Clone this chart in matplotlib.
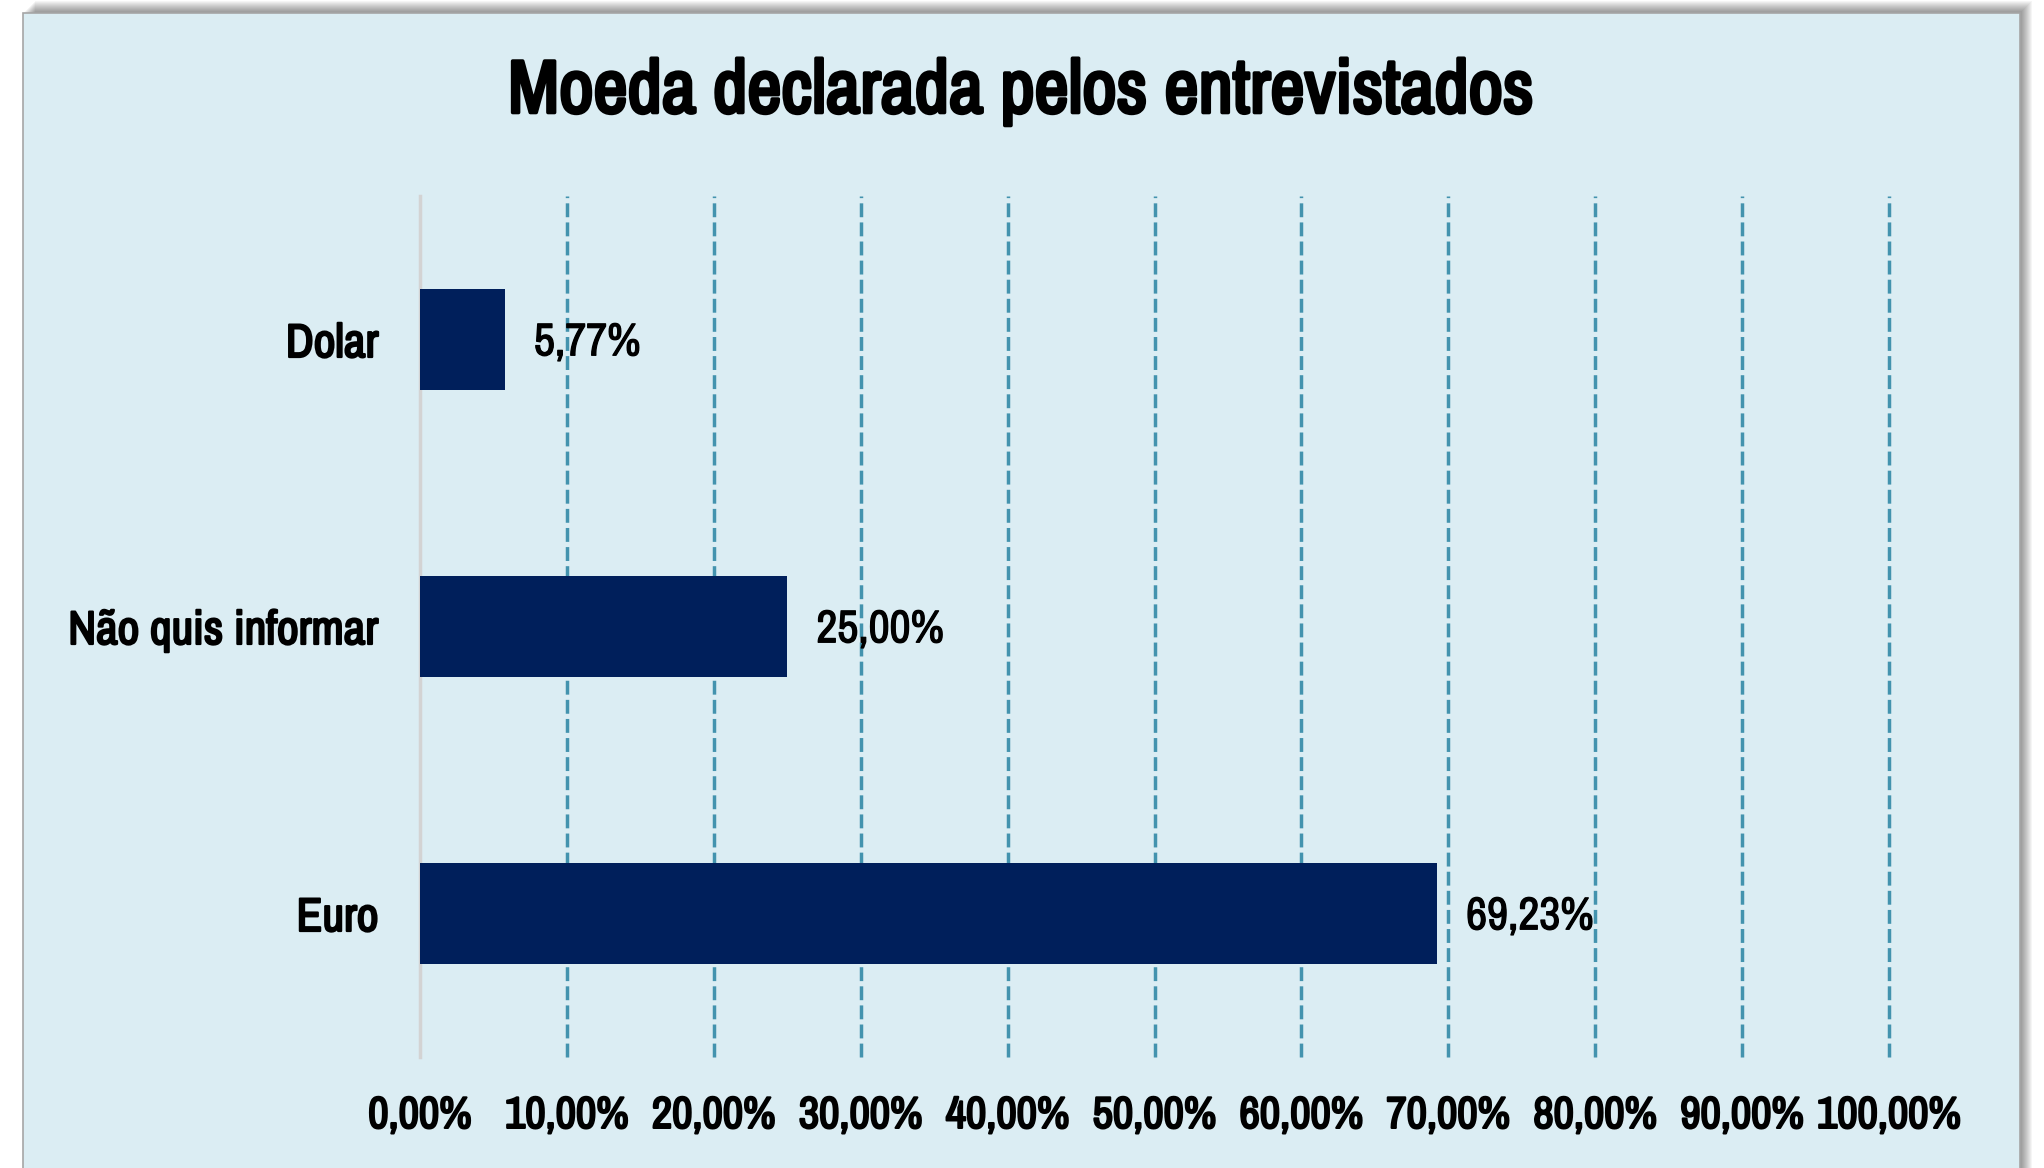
import matplotlib
matplotlib.use("Agg")
import matplotlib.pyplot as plt
from matplotlib.patches import Rectangle
import matplotlib.patheffects as pe

# dados do grafico
categorias = ["Euro", "Não quis informar", "Dolar"]
valores = [69.23, 25.00, 5.77]
ticks_x = [0, 10, 20, 30, 40, 50, 60, 70, 80, 90, 100]

plt.rcParams["font.family"] = ["Archivo Narrow", "DejaVu Sans"]

# a fonte estreita so tem peso normal: engrossa com um contorno
negrito = [pe.withStroke(linewidth=1.6, foreground="black")]
medio = [pe.withStroke(linewidth=0.9, foreground="black")]

W, H = 2044, 1168
fig = plt.figure(figsize=(W / 100, H / 100), dpi=100)
fig.patch.set_facecolor("white")

# caixa do grafico com sombra
x0, y0, x1 = 23, 13, 2020
for k in range(12, 0, -1):
    fig.add_artist(Rectangle(((x0 + k) / W, 0), (x1 - x0) / W, (H - y0 + k) / H,
                             transform=fig.transFigure, facecolor="black",
                             alpha=0.04, edgecolor="none", zorder=0))
fig.add_artist(Rectangle((x0 / W, -0.01), (x1 - x0) / W, (H - y0) / H + 0.01,
                         transform=fig.transFigure, facecolor="#dbedf3",
                         edgecolor="#a6a6a6", linewidth=1.2, zorder=1))

ax = fig.add_axes([420 / W, 1 - 1057 / H, (1889 - 420) / W, (1057 - 196) / H])
ax.set_facecolor("none")
ax.set_zorder(2)

pos = range(len(categorias))
ax.barh(pos, valores, height=0.35, color="#001f5b", zorder=3)

for p, v in zip(pos, valores):
    txt = f"{v:.2f}%".replace(".", ",")
    ax.annotate(txt, (v, p), xytext=(21, -2), textcoords="offset points",
                ha="left", va="center", fontsize=33, color="black", zorder=4,
                path_effects=medio)

ax.set_xlim(0, 100)
ax.set_ylim(-0.5, 2.5)
ax.set_xticks(ticks_x)
ax.set_xticklabels([f"{t:.2f}%".replace(".", ",") for t in ticks_x], fontsize=32)
ax.set_yticks(list(pos))
ax.set_yticklabels(categorias, fontsize=34)
for lab in ax.get_xticklabels() + ax.get_yticklabels():
    lab.set_path_effects(negrito)
ax.tick_params(axis="both", length=0)
ax.tick_params(axis="x", pad=28)
ax.tick_params(axis="y", pad=30)

for t in ticks_x[1:]:
    ax.axvline(t, color="#4393ae", linewidth=2.5, linestyle=(0, (4, 1.5)),
               zorder=1, clip_on=False)

for s in ["top", "right", "bottom"]:
    ax.spines[s].set_visible(False)
ax.spines["left"].set_color("#d3d3d3")
ax.spines["left"].set_linewidth(2.5)

fig.text(1021 / W, 1 - 92 / H, "Moeda declarada pelos entrevistados",
         ha="center", va="center", fontsize=54,
         path_effects=[pe.withStroke(linewidth=2.6, foreground="black")])

fig.savefig("out.png", dpi=100)
